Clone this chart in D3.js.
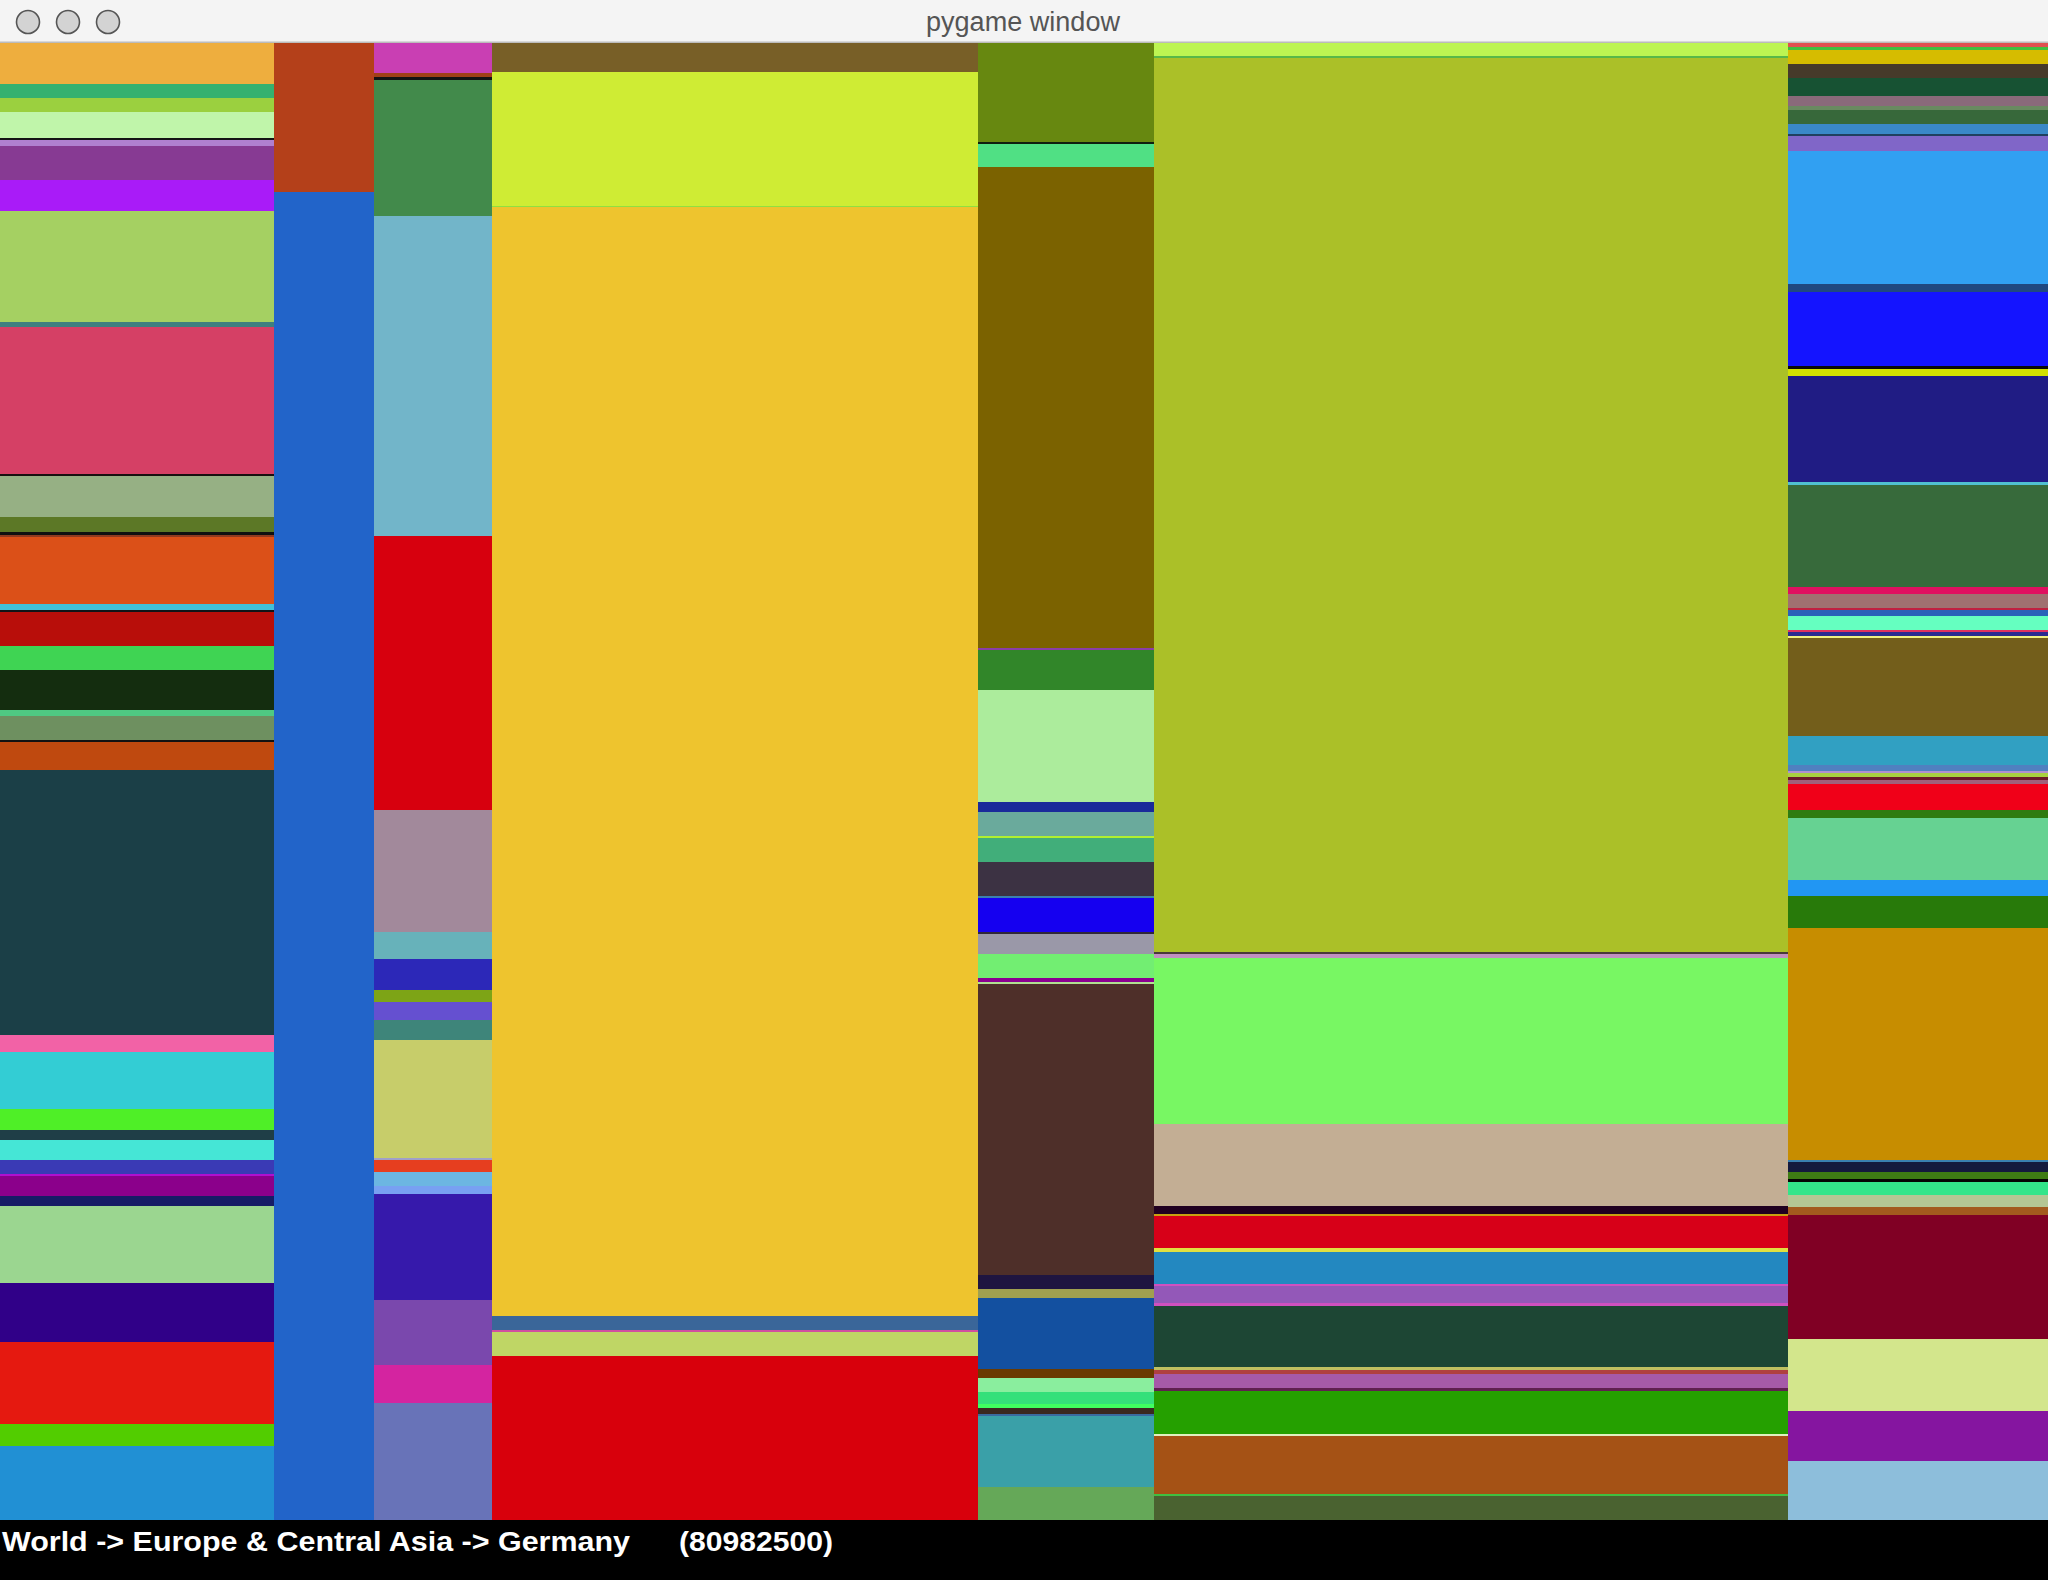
<!DOCTYPE html>
<html>
<head>
<meta charset="utf-8">
<script src="https://cdn.jsdelivr.net/npm/d3@7"></script>
<style>
  html, body { margin: 0; padding: 0; background: #000; }
  svg { display: block; }
</style>
</head>
<body>
<script>
// ---------------- DATA (population, millions) ----------------
const regions = ["Sub-Saharan Africa", "North America", "Middle East & North Africa", "South Asia",
                 "Latin America & Caribbean", "East Asia & Pacific", "Europe & Central Asia"];

const ssaCountries = ["Angola","Burundi","Benin","Burkina Faso","Botswana","Central African Republic","Cote d'Ivoire","Cameroon","Congo, Dem. Rep.","Congo, Rep.","Ethiopia","Gabon","Ghana","Guinea","Gambia, The","Guinea-Bissau","Kenya","Liberia","Lesotho","Madagascar","Mali","Mozambique","Mauritania","Malawi","Namibia","Niger","Nigeria","Rwanda","Sudan","Senegal","Sierra Leone","Somalia","South Sudan","Swaziland","Chad","Togo","Tanzania","Uganda","South Africa","Zambia","Zimbabwe"];
const ssaValues = [26.96,9.21,9.21,17.10,1.32,3.95,22.36,20.39,72.99,3.29,96.34,1.64,26.96,9.86,1.78,1.18,44.39,3.75,1.25,22.36,16.05,26.30,3.95,16.05,1.25,18.35,174.40,10.92,37.15,14.01,6.58,13.15,9.34,1.58,12.82,6.51,50.96,38.40,54.05,14.34,48.86];

const nacCountries = ["Canada","United States"];
const nacValues = [35.76, 318.74];

const meaCountries = ["United Arab Emirates","Bahrain","Djibouti","Algeria","Egypt, Arab Rep.","Iran, Islamic Rep.","Iraq","Israel","Jordan","Kuwait","Lebanon","Libya","Morocco","Malta","Oman","West Bank and Gaza","Qatar","Saudi Arabia","Syrian Arab Republic","Tunisia","Yemen, Rep."];
const meaValues = [8.50,1.13,0.85,38.40,90.62,77.63,34.58,7.79,8.75,3.34,5.10,5.66,33.42,0.51,3.46,4.08,2.15,30.02,18.52,10.76,33.02];

const sasCountries = ["Afghanistan","Bangladesh","Bhutan","India","Sri Lanka","Maldives","Nepal","Pakistan"];
const sasValues = [33.83,155.71,1.17,1293.77,16.68,1.98,28.34,191.29];

const lcnCountries = ["Argentina","Bahamas, The","Bolivia","Brazil","Barbados","Chile","Colombia","Costa Rica","Cuba","Curacao","Dominican Republic","Ecuador","Grenada","Guatemala","Guyana","Honduras","Haiti","Jamaica","St. Lucia","Mexico","Nicaragua","Panama","Peru","Puerto Rico","Paraguay","El Salvador","Suriname","Trinidad and Tobago","Uruguay","Venezuela, RB","Virgin Islands (U.S.)"];
const lcnValues = [41.61,0.97,9.97,202.79,1.18,16.77,47.14,4.39,10.05,1.01,10.01,14.45,0.80,14.28,0.93,8.45,10.26,1.39,1.01,123.00,6.00,3.42,30.12,4.01,5.62,5.41,1.39,2.66,0.84,30.20,13.73];

const easCountries = ["Australia","Brunei Darussalam","China","Fiji","Hong Kong SAR, China","Indonesia","Japan","Cambodia","Kiribati","Korea, Rep.","Lao PDR","Myanmar","Mongolia","Malaysia","New Zealand","Philippines","Palau","Papua New Guinea","Korea, Dem. Rep.","Singapore","Thailand","Timor-Leste","Vietnam","Vanuatu","Samoa"];
const easValues = [20.24,2.59,1360.70,2.74,6.85,251.70,124.50,12.33,3.35,48.39,6.24,48.85,3.50,24.80,4.57,94.04,3.96,5.48,21.46,4.57,65.89,3.35,87.95,3.20,36.37];

const ecsCountries = ["Albania","Armenia","Austria","Azerbaijan","Belgium","Bulgaria","Bosnia and Herzegovina","Belarus","Switzerland","Cyprus","Czech Republic","Germany","Denmark","Spain","Estonia","Finland","France","Faeroe Islands","United Kingdom","Georgia","Greece","Greenland","Croatia","Hungary","Isle of Man","Ireland","Iceland","Italy","Kazakhstan","Kyrgyz Republic","Liechtenstein","Lithuania","Luxembourg","Latvia","Netherlands","Norway","Poland","Portugal","Romania","Russian Federation","San Marino","Serbia","Slovak Republic","Slovenia","Sweden","Tajikistan","Turkmenistan","Turkey","Ukraine","Uzbekistan","Kosovo"];
const ecsValues = [2.25,2.37,8.24,8.86,11.17,6.49,2.37,8.80,5.93,1.75,9.42,82.74,4.74,46.24,2.06,4.37,66.33,1.44,64.21,3.87,8.80,1.50,3.49,8.86,1.19,2.37,1.44,61.28,17.66,3.87,1.44,2.75,1.50,2.31,16.35,5.05,38.50,10.36,19.91,144.64,1.44,6.18,4.49,1.50,8.61,7.36,5.05,77.38,45.05,31.14,36.57];

// status line (hovered node)
const statusPath = ["World", "Europe & Central Asia", "Germany"];
const statusValue = 80982500;

// ---------------- STYLES (random colours of the rectangles) ----------------
const ssaColors = ["#eeae3e","#35b16f","#9bd03f","#c0f5aa","#141414","#b07fd0","#873a93","#a91bf8","#a5d062","#3e7f80","#d54065","#181010","#96b084","#5c7826","#101010","#903a20","#db5018","#40c0d8","#101418","#b80e0a","#3fd453","#142d0f","#4fc982","#6e9060","#121212","#bf490f","#1b3f47","#f262a6","#33cdd4","#4fef27","#1f3e47","#45e6d6","#3a3ab5","#b010d0","#8b008b","#161c66","#9bd690","#300088","#e51910","#52cd00","#2190d4"];
const nacColors = ["#b4401a","#2264c9"];
const meaColors = ["#c93fb3","#a04018","#141414","#428a4b","#72b5c9","#d7000e","#a2899b","#67b2ba","#2c28b8","#7da416","#6550d0","#3e857a","#c7cd6a","#a0a0c8","#e63e1f","#6cb6e2","#78a0f2","#3619ab","#7a48ad","#d424a0","#6873b8"];
const sasColors = ["#785f27","#cfec34","#90e040","#eec42e","#3a6699","#d050a0","#bfd665","#d8000c"];
const lcnColors = ["#678810","#102010","#50e084","#7b6200","#8a3ea8","#318629","#acec9c","#1a2a9a","#6aaa9c","#b0f030","#41ae7a","#3c3243","#3a80b0","#1500f0","#302838","#9a98a8","#72ee72","#8a0090","#b0e090","#4e2f29","#1f1540","#a0a050","#1350a0","#6a3a00","#8aee9e","#35e07a","#40ff60","#3a2820","#3a6aa0","#3aa0a8","#65a858"];
const easColors = ["#bdf552","#58b848","#abc028","#4a3a3a","#c090c0","#78f763","#c3ae94","#200020","#c8a010","#d70018","#e0e040","#2388c0","#d050c0","#9358b8","#d050c0","#1d4634","#c0c060","#b04040","#a65aa8","#602050","#25a000","#e0f0c0","#a55215","#40c040","#4a6230"];
const ecsColors = ["#e05050","#40c040","#d6bc00","#463a2a","#175233","#8a6a7a","#6a8a60","#37683a","#3a88c8","#204060","#8066c8","#31a0f2","#204880","#1414ff","#0a0a0a","#d3e000","#201c84","#50c0d0","#376a3b","#e01060","#a07070","#c02040","#2a62b8","#65ffc0","#e03060","#2a2a90","#f0f080","#735e1b","#31a0c2","#5080c0","#b090d0","#a8d040","#6a1a2a","#a0607a","#f00018","#2e7b10","#66d292","#2196f3","#287a0a","#c78d00","#3a80b0","#141a3e","#3e7c14","#050505","#33e58a","#b4c694","#a35a1e","#800024","#d3e68c","#8515a0","#8dbedb"];

// ---------------- BUILD ----------------
const W = 2048, H = 1580;
const TITLE_H = 43, STATUS_H = 60;
const mapH = H - TITLE_H - STATUS_H;

const countryLists = [ssaCountries, nacCountries, meaCountries, sasCountries, lcnCountries, easCountries, ecsCountries];
const valueLists = [ssaValues, nacValues, meaValues, sasValues, lcnValues, easValues, ecsValues];
const colorLists = [ssaColors, nacColors, meaColors, sasColors, lcnColors, easColors, ecsColors];

const rootData = {
  name: "World",
  children: regions.map((r, i) => ({
    name: r,
    children: countryLists[i].map((c, j) => ({ name: c, value: valueLists[i][j] }))
  }))
};

const colorScales = regions.map((r, i) => d3.scaleOrdinal().domain(countryLists[i]).range(colorLists[i]));

const root = d3.hierarchy(rootData).sum(d => d.value || 0);
d3.treemap().tile(d3.treemapSliceDice).size([W, mapH]).paddingInner(0)(root);

const svg = d3.select("body").append("svg").attr("width", W).attr("height", H);

// window title bar
svg.append("rect").attr("x", 0).attr("y", 0).attr("width", W).attr("height", TITLE_H).attr("fill", "#f4f4f4");
svg.append("rect").attr("x", 0).attr("y", TITLE_H - 1.5).attr("width", W).attr("height", 1.5).attr("fill", "#bcbcbc");
[28, 68, 108].forEach(cx => {
  svg.append("circle").attr("cx", cx).attr("cy", 22).attr("r", 11.5)
    .attr("fill", "#d3d3d3").attr("stroke", "#555").attr("stroke-width", 1.6);
});
svg.append("text").attr("x", 1023).attr("y", 31).attr("text-anchor", "middle")
  .attr("font-family", "'Liberation Sans', Arial, sans-serif").attr("font-size", 27)
  .attr("fill", "#555").attr("textLength", 194).attr("lengthAdjust", "spacingAndGlyphs")
  .text("pygame window");

// treemap
const g = svg.append("g").attr("transform", `translate(0,${TITLE_H})`);
g.selectAll("rect.leaf")
  .data(root.leaves())
  .join("rect")
  .attr("class", "leaf")
  .attr("x", d => d.x0)
  .attr("y", d => d.y0)
  .attr("width", d => d.x1 - d.x0)
  .attr("height", d => Math.max(0, d.y1 - d.y0))
  .attr("shape-rendering", "crispEdges")
  .attr("fill", d => colorScales[regions.indexOf(d.parent.data.name)](d.data.name));

// status bar
svg.append("rect").attr("x", 0).attr("y", H - STATUS_H).attr("width", W).attr("height", STATUS_H).attr("fill", "#000");
svg.append("text").attr("x", 2).attr("y", 1551)
  .attr("font-family", "'Liberation Sans', Arial, sans-serif").attr("font-weight", "bold").attr("font-size", 27)
  .attr("fill", "#fff").attr("textLength", 628).attr("lengthAdjust", "spacingAndGlyphs")
  .text(statusPath.join(" -> "));
svg.append("text").attr("x", 679).attr("y", 1551)
  .attr("font-family", "'Liberation Sans', Arial, sans-serif").attr("font-weight", "bold").attr("font-size", 27)
  .attr("fill", "#fff").attr("textLength", 154).attr("lengthAdjust", "spacingAndGlyphs")
  .text(`(${statusValue})`);
</script>
</body>
</html>
